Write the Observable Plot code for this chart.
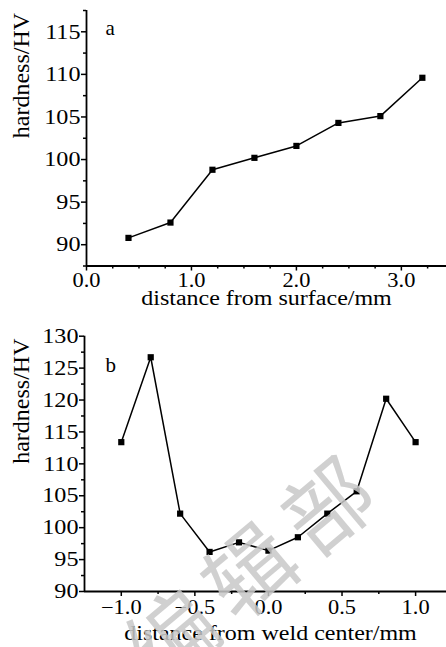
<!DOCTYPE html>
<html><head><meta charset="utf-8">
<script src="https://cdn.jsdelivr.net/npm/d3@7"></script>
<script src="https://cdn.jsdelivr.net/npm/@observablehq/plot@0.6"></script>
<style>
html,body{margin:0;padding:0;background:#fff;}
body{width:446px;height:647px;overflow:hidden;position:relative;}
svg{display:block;}
#chart svg, #chart svg text{font-family:"Liberation Serif","Times New Roman",serif !important;}
#wm{position:absolute;left:252px;top:563px;transform:translate(-50%,-50%) rotate(-40deg);
font-family:"Noto Sans CJK SC";font-weight:400;font-size:88px;letter-spacing:14px;color:rgba(200,200,200,0.85);white-space:nowrap;pointer-events:none;line-height:1;}
</style></head><body>
<div id="chart"></div>
<div id="wm">编辑部</div>
<script>
// Panel a data
const aDist = [0.4, 0.8, 1.2, 1.6, 2.0, 2.4, 2.8, 3.2];
const aHard = [90.8, 92.6, 98.8, 100.2, 101.6, 104.3, 105.1, 109.6];
// Panel b data
const bDist = [-1.0, -0.8, -0.6, -0.4, -0.2, 0.0, 0.2, 0.4, 0.6, 0.8, 1.0];
const bHard = [113.4, 126.7, 102.2, 96.2, 97.7, 96.4, 98.5, 102.2, 105.7, 120.2, 113.4];
// Ticks
const aYTicks = [90, 95, 100, 105, 110, 115];
const aYMinor = [87.5, 92.5, 97.5, 102.5, 107.5, 112.5, 117.5];
const aXTicks = [0, 1, 2, 3];
const aXMinor = [0.25, 0.5, 0.75, 1.25, 1.5, 1.75, 2.25, 2.5, 2.75, 3.25];
const bYTicks = [90, 95, 100, 105, 110, 115, 120, 125, 130];
const bYMinor = [92.5, 97.5, 102.5, 107.5, 112.5, 117.5, 122.5, 127.5];
const bXTicks = [-1, -0.5, 0, 0.5, 1];
const bXMinor = [-0.75, -0.25, 0.25, 0.75];
// Labels
const yTitle = "hardness/HV";
const aXTitle = "distance from surface/mm";
const bXTitle = "distance from weld center/mm";
const aTag = "a", bTag = "b";

const aData = aDist.map((d, i) => ({x: d, y: aHard[i]}));
const bData = bDist.map((d, i) => ({x: d, y: bHard[i]}));
const fmt = d => (d < 0 ? "\u2212" : "") + Math.abs(d).toFixed(1);
const font = '"Liberation Serif", "Times New Roman", serif';

function panel({data, xDomain, yDomain, yT, yM, xT, xM, tag, xTitle, height, mL, mT, mB, tagDx, tagDy, titleDy, titleDx, xPad}) {
  return Plot.plot({
    width: 446, height, marginLeft: mL, marginRight: 0, marginTop: mT, marginBottom: mB,
    x: {domain: xDomain}, y: {domain: yDomain},
    style: {fontFamily: font, fontSize: "20px", color: "#000", background: "#fff"},
    marks: [
      Plot.axisY(yT, {tickSize: 5, tickPadding: 1, strokeWidth: 1.5, tickFormat: d => String(d), label: null, fontSize: 21}),
      Plot.axisY(yM, {tickSize: 3, strokeWidth: 1.5, tickFormat: () => "", label: null}),
      Plot.axisX(xT, {tickSize: 5, tickPadding: xPad, strokeWidth: 1.5, tickFormat: fmt, label: null, fontSize: 20}),
      Plot.axisX(xM, {tickSize: 3, strokeWidth: 1.5, tickFormat: () => "", label: null}),
      Plot.ruleX([xDomain[0]], {strokeWidth: 1.8}),
      Plot.ruleY([yDomain[0]], {strokeWidth: 1.8}),
      Plot.line(data, {x: "x", y: "y", stroke: "#000", strokeWidth: 1.5}),
      Plot.dot(data, {x: "x", y: "y", symbol: "square", r: 3.5, fill: "#000", stroke: "none"}),
      Plot.text([tag], {frameAnchor: "top-left", textAnchor: "start", lineAnchor: "bottom", dx: tagDx, dy: tagDy, fontSize: 21}),
      Plot.text([yTitle], {frameAnchor: "left", rotate: -90, lineAnchor: "bottom", dx: 28 - mL, fontSize: 24}),
      Plot.text([xTitle], {frameAnchor: "bottom", lineAnchor: "bottom", dy: titleDy, dx: titleDx, fontSize: 20})
    ]
  });
}

const pa = panel({data: aData, xDomain: [0, 3.43], yDomain: [87.5, 117.5], yT: aYTicks, yM: aYMinor, xT: aXTicks, xM: aXMinor,
  tag: aTag, xTitle: aXTitle, height: 312, mL: 86, mT: 10, mB: 46.5, tagDx: 19, tagDy: 24, titleDy: 38.5, titleDx: 0, xPad: 2});
const pb = panel({data: bData, xDomain: [-1.25, 1.21], yDomain: [90, 130], yT: bYTicks, yM: bYMinor, xT: bXTicks, xM: bXMinor,
  tag: bTag, xTitle: bXTitle, height: 335, mL: 84, mT: 23.7, mB: 56, tagDx: 21, tagDy: 36, titleDy: 48.5, titleDx: 5, xPad: 3});

const root = document.getElementById("chart");
root.appendChild(pa);
root.appendChild(pb);

function stretch(svg) {
  svg.querySelectorAll("text").forEach(t => {
    const s = t.textContent;
    let k = 1;
    if (/^\d+$/.test(s)) k = 1.15;
    else if (/^[\u2212\-]?\d/.test(s)) k = 1.12;
    else if (s.startsWith("distance")) k = 1.2;
    if (k !== 1 && s.length) {
      const L = t.getComputedTextLength();
      t.setAttribute("textLength", L * k);
      t.setAttribute("lengthAdjust", "spacingAndGlyphs");
    }
  });
}
stretch(pa); stretch(pb);
</script>
</body></html>
